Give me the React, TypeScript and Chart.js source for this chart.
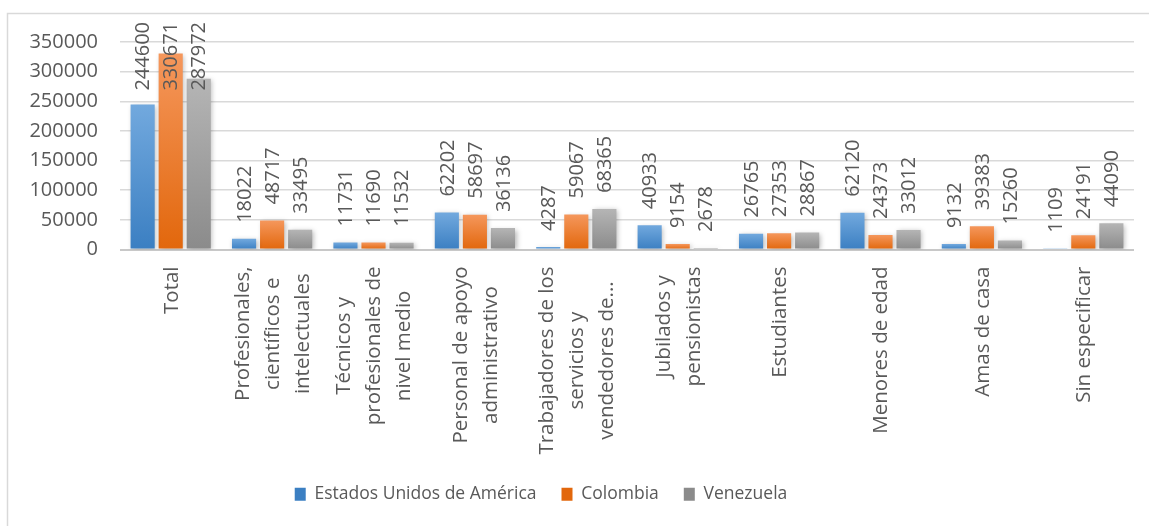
import React, { useEffect, useRef } from "react";
import { Chart, registerables } from "chart.js";

Chart.register(...registerables);

const categories: string[][] = [
  ["Total"],
  ["Profesionales,", "científicos e", "intelectuales"],
  ["Técnicos y", "profesionales de", "nivel medio"],
  ["Personal de apoyo", "administrativo"],
  ["Trabajadores de los", "servicios y", "vendedores de..."],
  ["Jubilados y", "pensionistas"],
  ["Estudiantes"],
  ["Menores de edad"],
  ["Amas de casa"],
  ["Sin especificar"],
];
const seriesNames = ["Estados Unidos de América", "Colombia", "Venezuela"];
const usaValues = [244600, 18022, 11731, 62202, 4287, 40933, 26765, 62120, 9132, 1109];
const colombiaValues = [330671, 48717, 11690, 58697, 59067, 9154, 27353, 24373, 39383, 24191];
const venezuelaValues = [287972, 33495, 11532, 36136, 68365, 2678, 28867, 33012, 15260, 44090];
const yTicks = [0, 50000, 100000, 150000, 200000, 250000, 300000, 350000];

const FONT = "'Open Sans', 'DejaVu Sans', sans-serif";
const TEXT = "#595959";

const makeBg = (top: string, bottom: string, flat: string) => (ctx: any) => {
  if (ctx.type !== "data") return flat;
  const chart = ctx.chart;
  const ys = chart.scales && chart.scales.y;
  if (!ys) return flat;
  const v = ctx.parsed ? ctx.parsed.y : ctx.raw;
  const y0 = ys.getPixelForValue(0);
  const y1 = ys.getPixelForValue(v);
  if (!isFinite(y0) || !isFinite(y1) || Math.abs(y0 - y1) < 0.5) return bottom;
  const g = chart.ctx.createLinearGradient(0, y1, 0, y0);
  g.addColorStop(0, top);
  g.addColorStop(1, bottom);
  return g;
};

const framePlugin = {
  id: "frame",
  beforeDraw(chart: any) {
    const c = chart.ctx;
    c.save();
    c.fillStyle = "#ffffff";
    c.fillRect(0, 0, chart.width, chart.height);
    c.strokeStyle = "#d9d9d9";
    c.lineWidth = 1.5;
    c.strokeRect(7.5, 13.5, chart.width + 20, chart.height + 20);
    c.restore();
  },
};

const legendShift = {
  id: "legendShift",
  afterLayout(chart: any) {
    const lg = chart.legend;
    if (!lg) return;
    const dx = -26;
    const dy = -13;
    lg.left += dx;
    lg.right += dx;
    lg.top += dy;
    lg.bottom += dy;
  },
};

const shadowPlugin = {
  id: "barShadow",
  beforeDatasetDraw(chart: any) {
    const c = chart.ctx;
    c.save();
    c.shadowColor = "rgba(0,0,0,0.28)";
    c.shadowBlur = 5;
    c.shadowOffsetX = 1.5;
    c.shadowOffsetY = 1.5;
  },
  afterDatasetDraw(chart: any) {
    chart.ctx.restore();
  },
};

const labelsPlugin = {
  id: "labelsDraw",
  afterDatasetsDraw(chart: any) {
    const c = chart.ctx;
    const area = chart.chartArea;
    c.save();
    c.font = `20px ${FONT}`;
    c.fillStyle = TEXT;
    c.textBaseline = "middle";
    // data labels
    chart.data.datasets.forEach((ds: any, di: number) => {
      const meta = chart.getDatasetMeta(di);
      meta.data.forEach((bar: any, i: number) => {
        const txt = String(ds.data[i]);
        const w = c.measureText(txt).width;
        let yb = bar.y - 16;
        const minTop = area.top - 20;
        if (yb - w < minTop) yb = minTop + w;
        c.save();
        c.translate(bar.x, yb);
        c.rotate(-Math.PI / 2);
        c.textAlign = "left";
        c.fillText(txt, 0, 1);
        c.restore();
      });
    });
    // category labels
    c.font = `20.5px ${FONT}`;
    const xs = chart.scales.x;
    const startY = area.bottom + 17;
    const lineGap = 30;
    categories.forEach((lines, i) => {
      const cx = xs.getPixelForValue(i);
      let maxW = 0;
      lines.forEach((l) => (maxW = Math.max(maxW, c.measureText(l).width)));
      const midY = startY + maxW / 2;
      lines.forEach((l, j) => {
        const off = (j - (lines.length - 1) / 2) * lineGap;
        c.save();
        c.translate(cx + off, midY);
        c.rotate(-Math.PI / 2);
        c.textAlign = "center";
        c.fillText(l, 0, 1);
        c.restore();
      });
    });
    c.restore();
  },
};

export default function App() {
  const ref = useRef<HTMLCanvasElement | null>(null);
  useEffect(() => {
    document.body.style.margin = "0";
    if (!ref.current) return;
    const chart = new Chart(ref.current, {
      type: "bar",
      data: {
        labels: categories.map((l) => l.join(" ")),
        datasets: [
          {
            label: seriesNames[0],
            data: usaValues,
            backgroundColor: makeBg("#72a9de", "#3b7fc2", "#5b9bd5"),
          },
          {
            label: seriesNames[1],
            data: colombiaValues,
            backgroundColor: makeBg("#f5975c", "#e2670c", "#ed7d31"),
          },
          {
            label: seriesNames[2],
            data: venezuelaValues,
            backgroundColor: makeBg("#b5b5b5", "#8b8b8b", "#a5a5a5"),
          },
        ],
      },
      options: {
        animation: false,
        responsive: false,
        maintainAspectRatio: false,
        layout: { padding: { top: 42, right: 15, bottom: 0, left: 0 } },
        datasets: {
          bar: { categoryPercentage: 0.83, barPercentage: 0.86 },
        },
        scales: {
          x: {
            grid: { display: false },
            border: { display: false },
            ticks: { display: false },
            afterFit: (s: any) => {
              s.height = 224;
            },
          },
          y: {
            min: 0,
            max: 350000,
            afterBuildTicks: (s: any) => {
              s.ticks = yTicks.map((v) => ({ value: v }));
            },
            grid: {
              drawTicks: false,
              color: (ctx: any) => (ctx.tick && ctx.tick.value === 0 ? "#c8c8c8" : "#d9d9d9"),
              lineWidth: (ctx: any) => (ctx.tick && ctx.tick.value === 0 ? 2 : 1.5),
            },
            border: { display: false },
            ticks: {
              padding: 22,
              color: TEXT,
              font: { family: FONT, size: 20 },
              callback: (v: any) => String(v),
            },
            afterFit: (s: any) => {
              s.width = 120;
            },
          },
        },
        plugins: {
          legend: {
            position: "bottom",
            labels: {
              color: TEXT,
              font: { family: FONT, size: 17.5 },
              boxWidth: 11,
              boxHeight: 13,
              padding: 25,
            },
          },
          tooltip: { enabled: false },
        },
      },
      plugins: [framePlugin, legendShift, shadowPlugin, labelsPlugin],
    });
    return () => chart.destroy();
  }, []);
  return (
    <div style={{ position: "absolute", left: 0, top: 0, width: 1149, height: 526 }}>
      <canvas ref={ref} width={1149} height={526} style={{ width: 1149, height: 526, display: "block" }} />
    </div>
  );
}
